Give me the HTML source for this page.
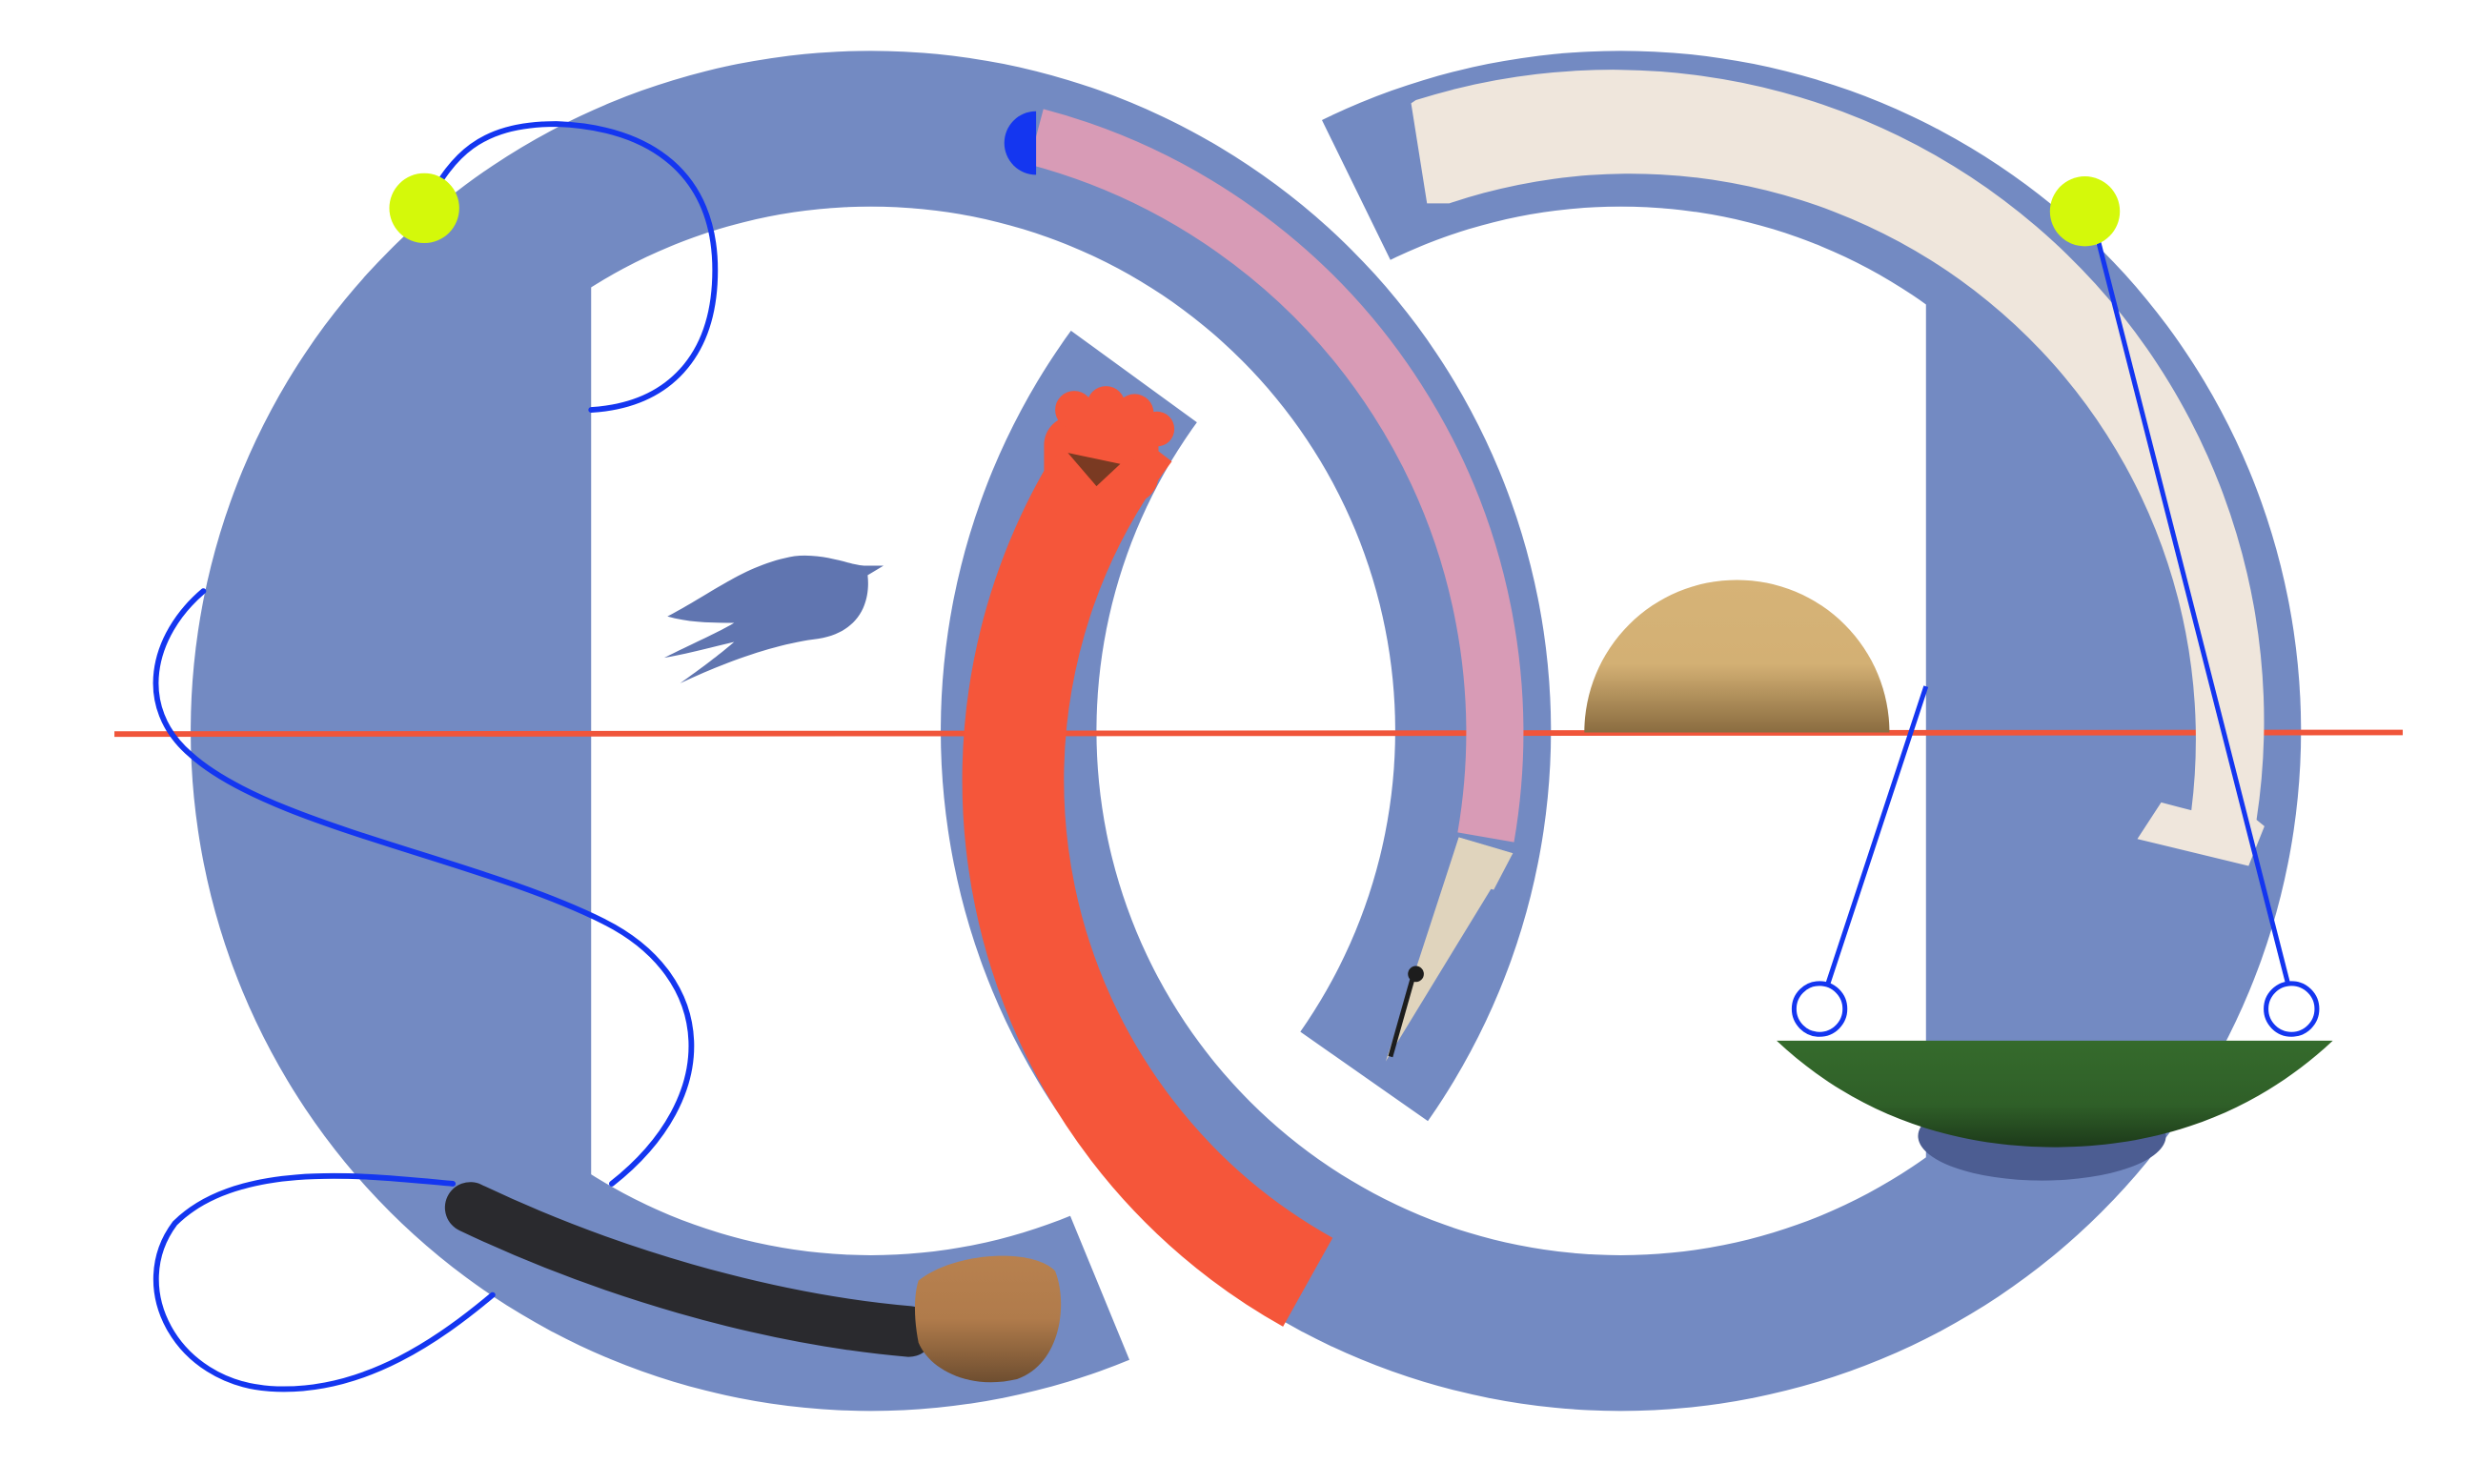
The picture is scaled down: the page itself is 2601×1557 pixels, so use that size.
<!DOCTYPE html>
<html><head><meta charset="utf-8"><style>
html,body{margin:0;padding:0;background:#fff;}
svg{display:block;}
</style></head><body>
<svg width="2601" height="1557" viewBox="0 0 1560 934" preserveAspectRatio="none" xmlns="http://www.w3.org/2000/svg">
<defs>
  <clipPath id="cxL"><rect x="372" y="0" width="1200" height="934"/></clipPath>
  <clipPath id="cxR"><rect x="0" y="0" width="1212" height="934"/></clipPath>
  <mask id="mL" maskUnits="userSpaceOnUse" x="0" y="0" width="1560" height="934">
    <rect width="1560" height="934" fill="black"/>
    <circle cx="548" cy="460" r="428" fill="white"/>
    <circle cx="548" cy="460" r="330" fill="black" clip-path="url(#cxL)"/>
    <polygon points="548,460 1039,804 949,906 800,1000 770,1000" fill="black"/>
  </mask>
  <mask id="mR" maskUnits="userSpaceOnUse" x="0" y="0" width="1560" height="934">
    <rect width="1560" height="934" fill="black"/>
    <circle cx="1020" cy="460" r="428" fill="white"/>
    <circle cx="1020" cy="460" r="330" fill="black" clip-path="url(#cxR)"/>
    <polygon points="1020,460 535,107 634,-10 790,-10" fill="black"/>
  </mask>
  <linearGradient id="sun" x1="0" y1="0" x2="0" y2="1">
    <stop offset="0" stop-color="#d6b377"/><stop offset="0.55" stop-color="#d3b074"/><stop offset="1" stop-color="#8a6c40"/>
  </linearGradient>
  <linearGradient id="bowl" x1="0" y1="0" x2="0" y2="1">
    <stop offset="0" stop-color="#356b2c"/><stop offset="0.6" stop-color="#2f5f28"/><stop offset="1" stop-color="#1d3a1a"/>
  </linearGradient>
  <linearGradient id="brush" x1="0" y1="0" x2="0" y2="1">
    <stop offset="0" stop-color="#b8814f"/><stop offset="0.5" stop-color="#b07b4b"/><stop offset="1" stop-color="#6e4e30"/>
  </linearGradient>
</defs>

<rect width="1560" height="934" fill="#738ac2" mask="url(#mR)"/>
<rect width="1560" height="934" fill="#738ac2" mask="url(#mL)"/>

<ellipse cx="1285" cy="715" rx="78" ry="28" fill="#4c5d92"/>

<path d="M72,462 L1512,461" stroke="#f0553a" stroke-width="3.5" fill="none"/>

<path d="M997,461 A96,96 0 0 1 1189,461 Z" fill="url(#sun)"/>

<path d="M420,388 C450,372 470,355 500,350 C520,348 535,356 545,356 L556,356 L546,362 C548,380 540,398 515,402 C490,405 460,415 428,430 C445,418 455,410 462,404 C445,408 430,412 418,414 C438,404 452,398 462,392 C448,392 434,392 420,388 Z" fill="#6075b0"/>

<path d="M652,86 A388,388 0 0 1 935,527" stroke="#d89bb6" stroke-width="36" fill="none"/>
<path d="M652,70 A19,19 0 0 0 652,110 Z" fill="#1436f0"/>
<polygon points="918,527 952,537 872,668" fill="#e0d4bd"/>
<polygon points="918,527 952,537 940,560 910,552" fill="#e0d4bd"/>
<line x1="890" y1="612" x2="875" y2="665" stroke="#1d1d1d" stroke-width="3"/>
<circle cx="891" cy="613" r="5" fill="#1d1d1d"/>

<path d="M712,271 A362,362 0 0 0 823,807" stroke="#f5563a" stroke-width="64" fill="none"/>
<g fill="#f5563a">
  <rect x="657" y="262" width="72" height="55" rx="18"/>
  <circle cx="676" cy="258" r="12"/>
  <circle cx="696" cy="255" r="12"/>
  <circle cx="714" cy="260" r="12"/>
  <circle cx="728" cy="270" r="11"/>
  <rect x="660" y="285" width="55" height="40" rx="10"/>
</g>
<polygon points="672,285 705,292 690,306" fill="#7a3a22"/>

<!-- cream tapered arc -->
<path fill="#efe6dc" d="M891,63 A410,410 0 0 1 1420,516 L1425,520 L1415,545 L1345,528 L1360,505 L1379,510 A356,356 0 0 0 912,128 L898,128 L888,65 Z"/>

<path d="M1320,150 L1440,620" stroke="#1436f0" stroke-width="3" fill="none"/>
<path d="M1212,432 L1150,620" stroke="#1436f0" stroke-width="3" fill="none"/>
<circle cx="1145" cy="635" r="16" fill="#fff" stroke="#1436f0" stroke-width="3"/>
<circle cx="1442" cy="635" r="16" fill="#fff" stroke="#1436f0" stroke-width="3"/>
<path d="M1118,655 L1468,655 C1420,700 1360,722 1293,722 C1226,722 1166,700 1118,655 Z" fill="url(#bowl)"/>
<circle cx="1312" cy="133" r="22" fill="#d4f90a"/>

<path d="M296,760 C380,800 480,830 572,838" stroke="#2a2a2e" stroke-width="32" stroke-linecap="round" fill="none"/>
<path d="M578,806 C600,788 650,785 664,800 C672,820 668,858 640,868 C610,875 585,862 578,845 C575,830 575,815 578,806 Z" fill="url(#brush)"/>

<g stroke="#1436f0" stroke-width="3.5" fill="none" stroke-linecap="round">
  <path d="M372,258 C420,255 450,225 450,170 C450,110 410,80 350,78 C300,78 285,100 270,125"/>
  <path d="M128,372 C95,400 85,445 120,475 C170,520 300,540 380,580 C450,615 455,690 385,745"/>
  <path d="M285,745 C230,740 150,730 110,770 C80,810 110,870 170,874 C230,878 280,840 310,815"/>
</g>
<circle cx="267" cy="131" r="22" fill="#d4f90a"/>
</svg>
</body></html>
